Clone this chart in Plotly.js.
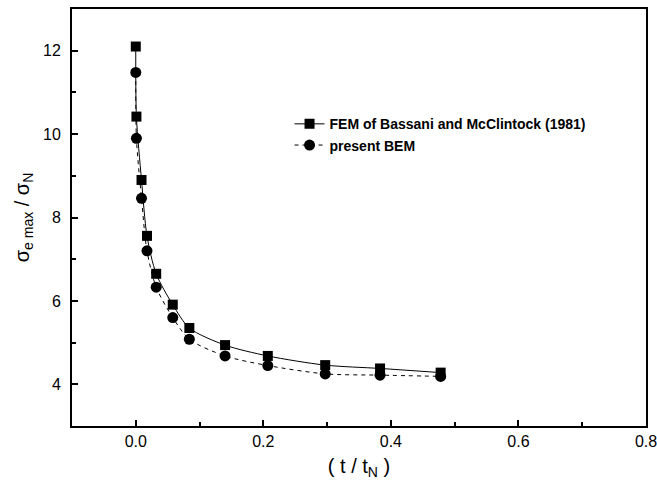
<!DOCTYPE html>
<html>
<head>
<meta charset="utf-8">
<script src="https://cdn.plot.ly/plotly-3.0.1.min.js"></script>
<style>html,body{margin:0;padding:0;background:#fff;}#chart{width:657px;height:491px;}</style>
</head>
<body>
<div id="chart"></div>
<script>
// t / tN values (shared by both series)
const tRatio = [0.0, 0.001, 0.009, 0.0176, 0.032, 0.058, 0.084, 0.140, 0.207, 0.297, 0.383, 0.478];
// FEM of Bassani and McClintock (1981)
const femValues = [12.10, 10.42, 8.90, 7.56, 6.65, 5.91, 5.35, 4.94, 4.68, 4.46, 4.38, 4.28];
// present BEM
const bemValues = [11.48, 9.90, 8.46, 7.20, 6.33, 5.60, 5.08, 4.68, 4.45, 4.25, 4.22, 4.19];
const seriesNames = ["FEM of Bassani and McClintock (1981)", "present BEM"];
const xTickVals = [0.0, 0.2, 0.4, 0.6, 0.8];
const xTickText = ["0.0", "0.2", "0.4", "0.6", "0.8"];
const yTickVals = [4, 6, 8, 10, 12];

const traces = [
  {
    x: tRatio, y: femValues, name: seriesNames[0], type: 'scatter', mode: 'lines+markers',
    line: {color: '#000', width: 1, shape: 'spline', smoothing: 0.8},
    marker: {symbol: 'square', size: 10, color: '#000'}
  },
  {
    x: tRatio, y: bemValues, name: seriesNames[1], type: 'scatter', mode: 'lines+markers',
    line: {color: '#000', width: 1, dash: '4px,4px', shape: 'spline', smoothing: 0.8},
    marker: {symbol: 'circle', size: 11, color: '#000'}
  }
];

const axisCommon = {
  showgrid: false, zeroline: false, showline: true, linecolor: '#000', linewidth: 2,
  mirror: true, ticks: 'inside', ticklen: 6, tickwidth: 2, tickcolor: '#000',
  ticklabeloverflow: 'allow',
  tickfont: {family: 'Arial, Liberation Sans, sans-serif', size: 16, color: '#000'}
};

const layout = {
  width: 657, height: 491,
  margin: {l: 72, r: 11, t: 9, b: 65},
  paper_bgcolor: '#fff', plot_bgcolor: '#fff',
  font: {family: 'Arial, Liberation Sans, sans-serif', color: '#000'},
  showlegend: true,
  legend: {
    x: 0.379, y: 0.762, xanchor: 'left', yanchor: 'top', bgcolor: 'rgba(0,0,0,0)',
    font: {family: 'Arial, Liberation Sans, sans-serif', size: 14, color: '#000', weight: 'bold'},
    tracegroupgap: 0
  },
  xaxis: Object.assign({}, axisCommon, {
    range: [-0.1, 0.8], tickvals: xTickVals, ticktext: xTickText,
    minor: {ticks: 'inside', ticklen: 4, tickwidth: 2, tickcolor: '#000', dtick: 0.1, tick0: 0.1},
    ticklabelstandoff: 0,
    title: {text: '( t / t<sub>N</sub> )', font: {size: 20, color: '#000'}, standoff: 10}
  }),
  yaxis: Object.assign({}, axisCommon, {
    range: [3, 13], tickvals: yTickVals,
    minor: {ticks: 'inside', ticklen: 4, tickwidth: 2, tickcolor: '#000', dtick: 1, tick0: 3},
    ticklabelstandoff: 6,
    title: {text: 'σ<sub>e max</sub> / σ<sub>N</sub>', font: {size: 20, color: '#000'}, standoff: 8}
  })
};

Plotly.newPlot('chart', traces, layout, {displayModeBar: false, staticPlot: true});
</script>
</body>
</html>
